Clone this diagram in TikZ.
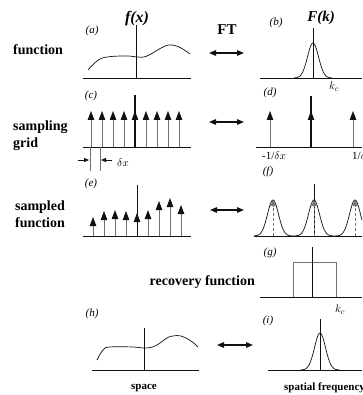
\documentclass[tikz,border=0pt]{standalone}
\usepackage{fontspec}
\setmainfont{Liberation Serif}
\usetikzlibrary{arrows.meta}
\definecolor{ink}{HTML}{111111}
\definecolor{shaft}{HTML}{707070}

\begin{document}
\begin{tikzpicture}[x=1pt,y=-1pt,
  axisln/.style={ink,line width=0.9pt},
  midln/.style={ink,line width=0.8pt},
  curveln/.style={ink,line width=0.7pt},
  pulse/.style={shaft,line width=0.9pt,-{Triangle[length=9pt,width=6.5pt,color=ink]}},
  peak/.style={shaft,line width=0.6pt,densely dashed,-{Triangle[length=6pt,width=5pt,color=shaft]}},
  ftarrow/.style={ink,line width=1.3pt,{Triangle[length=7pt,width=5.5pt]}-{Triangle[length=7pt,width=5.5pt]}},
  panel/.style={font=\fontsize{11}{11}\selectfont\itshape,inner sep=0pt},
  rowlbl/.style={font=\fontsize{14}{17}\selectfont\bfseries,inner sep=0pt},
  axlbl/.style={font=\fontsize{11}{11}\selectfont,inner sep=0pt}]
  \useasboundingbox (0,0) rectangle (362,395);

  % headings
  \node[font=\fontsize{16}{16}\selectfont\bfseries\itshape,inner sep=0pt] (fxlbl) at (137,19) {f(x)};
  \node[font=\fontsize{15}{15}\selectfont\bfseries\itshape,inner sep=0pt] (fklbl) at (321,18) {F(k)};
  \node[font=\fontsize{15}{15}\selectfont\bfseries,inner sep=0pt] (ftlbl) at (227,30) {FT};

  % row labels
  \node[rowlbl,anchor=west] (fnlbl) at (13,50) {function};
  \node[rowlbl,anchor=west,align=left] (gridlbl) at (13,136) {sampling\\grid};
  \node[rowlbl,align=center] (smplbl) at (40,214) {sampled\\function};
  \node[rowlbl,anchor=east] (reclbl) at (255,282) {recovery function};
  \node[font=\fontsize{11}{11}\selectfont\bfseries,inner sep=0pt] (spclbl) at (144,388) {space};
  \node[font=\fontsize{11}{11}\selectfont\bfseries,inner sep=0pt,anchor=west] (frqlbl) at (284,388) {spatial frequency};

  % panel letters
  \node[panel] (pa) at (92,31) {(a)};
  \node[panel] (pb) at (276,23) {(b)};
  \node[panel] (pc) at (91,96) {(c)};
  \node[panel] (pd) at (270,93) {(d)};
  \node[panel] (pe) at (91,184) {(e)};
  \node[panel] (pf) at (268,172) {(f)};
  \node[panel] (pg) at (270,253) {(g)};
  \node[panel] (ph) at (92,314) {(h)};
  \node[panel] (pi) at (268,321) {(i)};

  % FT arrows
  \coordinate (ft1l) at (209,53);  \coordinate (ft1r) at (244,53);
  \coordinate (ft2l) at (209,122); \coordinate (ft2r) at (244,122);
  \coordinate (ft3l) at (210,210); \coordinate (ft3r) at (244,210);
  \coordinate (ft5l) at (217,345); \coordinate (ft5r) at (253,345);
  \draw[ftarrow] (ft1l) -- (ft1r);
  \draw[ftarrow] (ft2l) -- (ft2r);
  \draw[ftarrow] (ft3l) -- (ft3r);
  \draw[ftarrow] (ft5l) -- (ft5r);

  % (a) function
  \draw[axisln] (83,78) -- (191,78);
  \draw[midln] (136,78) -- (136,25);
  \draw[curveln] plot[smooth,tension=0.7] coordinates {(88,70) (97,61) (107,57) (127,56) (137,57) (147,56) (163,47) (172,45) (181,48) (190,54)};

  % (b) transform
  \draw[axisln] (260,78) -- (362,78);
  \draw[midln] (313,78) -- (313,28);
  \draw[curveln] plot[domain=294:332,samples=60] (\x,{78-35*exp(-0.5*((\x-313)/5.5)^2)});
  \node[axlbl] (kcb) at (334,87) {$k_c$};

  % (c) sampling grid
  \draw[axisln] (83,147) -- (191,147);
  \foreach \i in {0,...,8}
    \draw[pulse] ({91+11*\i},147) -- ({91+11*\i},111);
  \draw[midln,line width=1.2pt] (135,147) -- (135,95);
  \draw[shaft,line width=0.7pt] (90,147) -- (90,171);
  \draw[shaft,line width=0.7pt] (100,147) -- (100,171);
  \coordinate (dxa) at (78,160); \coordinate (dxb) at (89,160);
  \coordinate (dxc) at (112,160); \coordinate (dxd) at (101,160);
  \draw[ink,line width=0.8pt,-{Triangle[length=5pt,width=4pt]}] (dxa) -- (dxb);
  \draw[ink,line width=0.8pt,-{Triangle[length=5pt,width=4pt]}] (dxc) -- (dxd);
  \node[axlbl] (dxlbl) at (123,163) {$\delta x$};

  % (d) reciprocal grid
  \draw[axisln] (256,147) -- (362,147);
  \foreach \x in {270,311,353}
    \draw[pulse] (\x,147) -- (\x,111);
  \draw[midln,line width=1.2pt] (311,147) -- (311,96);
  \node[axlbl] (mdx) at (274,156) {-1/$\delta x$};
  \node[axlbl,anchor=west] (pdx) at (352,156) {1/$\delta x$};

  % (e) sampled function
  \draw[axisln] (83,236) -- (191,236);
  \foreach \x/\t in {93/217,104/211,115/210,126/211,137/213,148/210,159/201,170/198,181/205}
    \draw[pulse] (\x,236) -- (\x,\t);
  \draw[midln] (137,236) -- (137,185);

  % (f) periodic spectrum
  \draw[axisln] (254,236) -- (362,236);
  \draw[midln] (314,236) -- (314,184);
  \foreach \x in {273,314,355}
    \draw[peak] (\x,236) -- (\x,200);
  \draw[curveln] plot[domain=254:362,samples=160] (\x,{236-36*(exp(-0.5*((\x-273)/5.5)^2)+exp(-0.5*((\x-314)/5.5)^2)+exp(-0.5*((\x-355)/5.5)^2))});

  % (g) recovery function
  \draw[axisln] (260,297) -- (362,297);
  \draw[shaft,line width=0.9pt] (293,297) -- (293,262) -- (336,262) -- (336,297);
  \draw[midln] (312,297) -- (312,247);
  \node[axlbl] (kcg) at (340,310) {$k_c$};

  % (h) recovered function
  \draw[axisln] (92,370) -- (199,370);
  \draw[midln] (144,370) -- (144,328);
  \draw[curveln] plot[smooth,tension=0.7] coordinates {(97,360) (103,350) (110,347) (133,347) (144,348) (155,346) (167,338) (173,336) (181,336) (191,341) (198,347)};

  % (i) recovered spectrum
  \draw[axisln] (268,370) -- (362,370);
  \draw[midln] (320,370) -- (320,319);
  \draw[curveln] plot[domain=300:340,samples=60] (\x,{370-37*exp(-0.5*((\x-320)/5.5)^2)});
\end{tikzpicture}
\end{document}
